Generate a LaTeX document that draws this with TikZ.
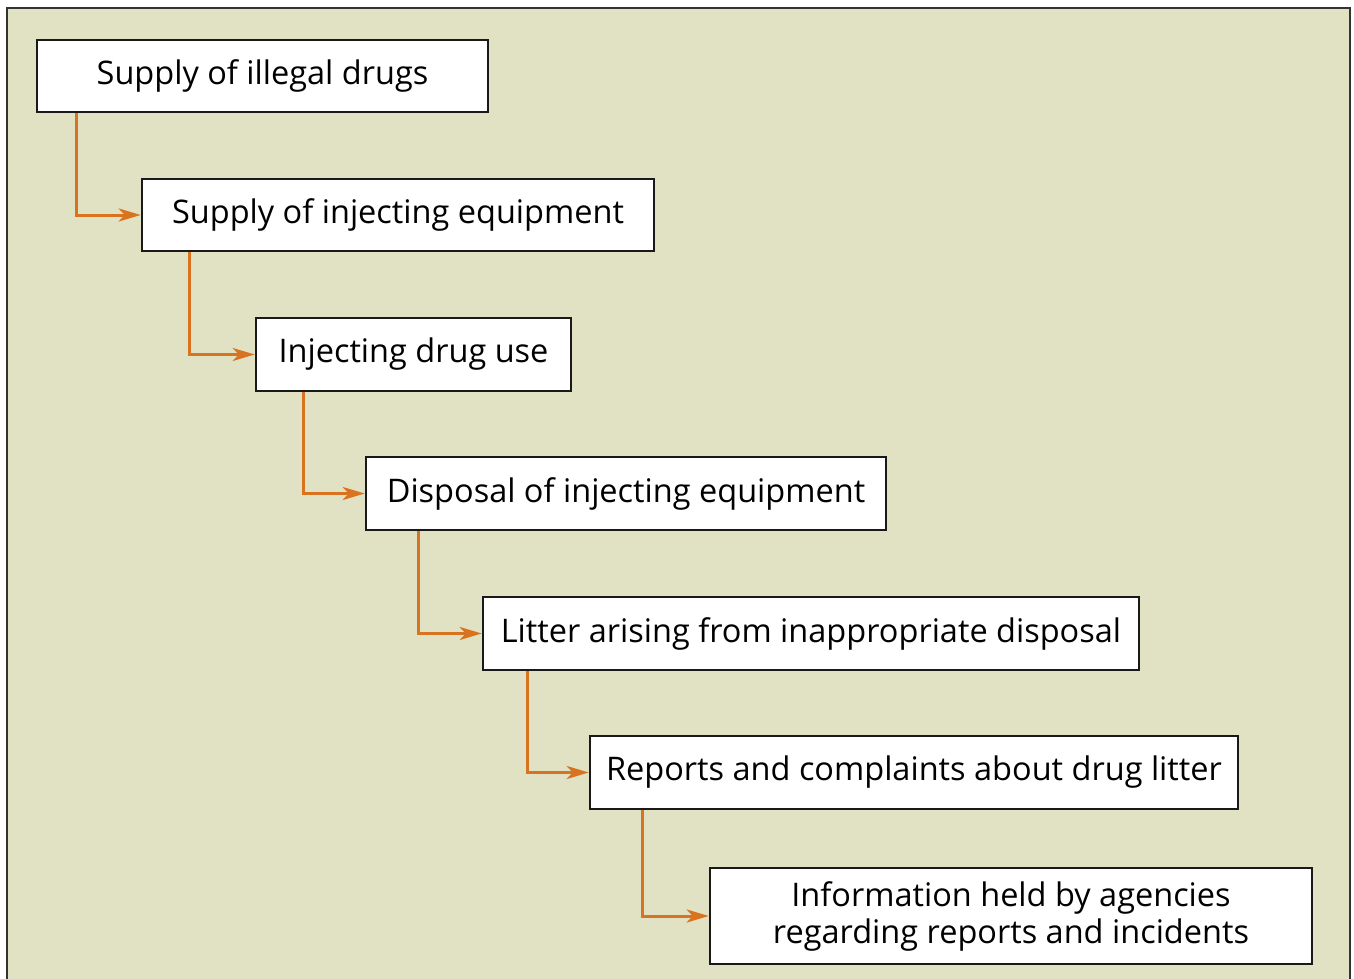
\documentclass[tikz,border=0pt]{standalone}
\usepackage{fontspec}
\setmainfont{Open Sans}
\usetikzlibrary{arrows.meta}
\definecolor{bgc}{HTML}{E1E1C3}
\definecolor{orc}{HTML}{D9731F}
\begin{document}
\begin{tikzpicture}[x=1pt,y=-1pt,
  box/.style={draw=black!90,line width=2.6pt,fill=white,inner sep=0pt,font=\fontsize{32.5}{37}\selectfont,align=center},
  conn/.style={draw=orc,line width=3pt,-{Stealth[length=22pt,width=13pt,inset=6pt]}}]
\useasboundingbox (0,0) rectangle (1354,979);
\fill[bgc] (7,8) rectangle (1350,985);
\draw[black!80,line width=2pt] (7,990) -- (7,8) -- (1350,8) -- (1350,990);
\node[box,minimum width=451pt,minimum height=72pt] (b1) at (262.5,76) {\raisebox{-1.5pt}{Supply of illegal drugs}};
\node[box,minimum width=512pt,minimum height=72pt] (b2) at (398,215) {\raisebox{-1.5pt}{Supply of injecting equipment}};
\node[box,minimum width=315pt,minimum height=73pt] (b3) at (413.5,354.5) {\raisebox{-1.5pt}{Injecting drug use}};
\node[box,minimum width=520pt,minimum height=73pt] (b4) at (626,493.5) {\raisebox{-1.5pt}{Disposal of injecting equipment}};
\node[box,minimum width=656pt,minimum height=73pt] (b5) at (811,633.5) {\raisebox{-1.5pt}{Litter arising from inappropriate disposal}};
\node[box,minimum width=648pt,minimum height=73pt] (b6) at (914,772.5) {\raisebox{-1.5pt}{Reports and complaints about drug litter}};
\node[box,minimum width=602pt,minimum height=96pt] (b7) at (1011,916) {Information held by agencies\\regarding reports and incidents};
\draw[conn] ([xshift=41pt]b1.south west) |- (b2.west);
\draw[conn] ([xshift=49pt]b2.south west) |- (b3.west);
\draw[conn] ([xshift=49pt]b3.south west) |- (b4.west);
\draw[conn] ([xshift=54pt]b4.south west) |- (b5.west);
\draw[conn] ([xshift=46pt]b5.south west) |- (b6.west);
\draw[conn] ([xshift=54pt]b6.south west) |- (b7.west);
\end{tikzpicture}
\end{document}
